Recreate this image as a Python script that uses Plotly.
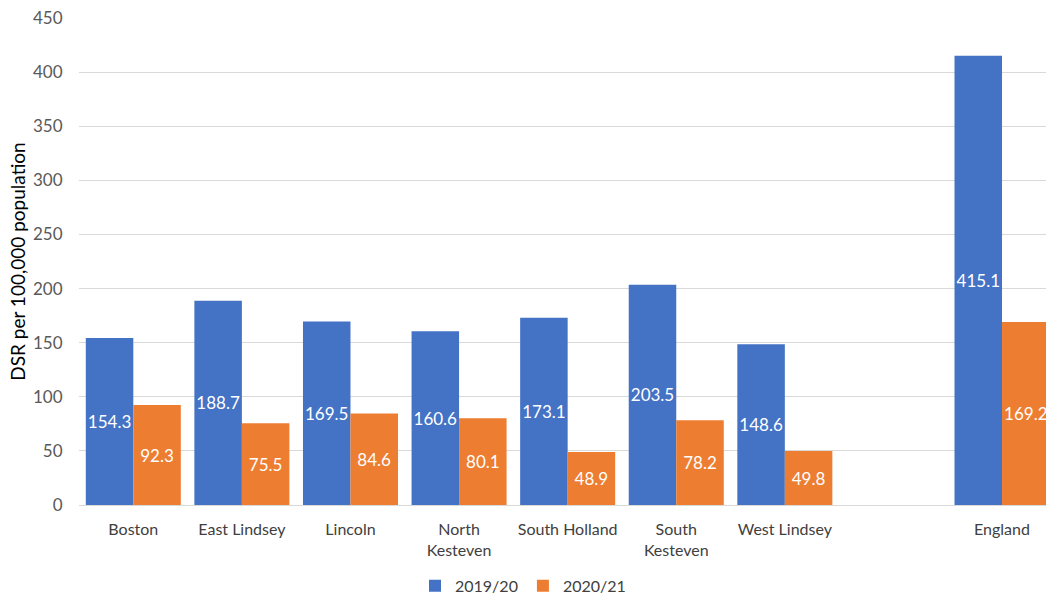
import plotly.graph_objects as go

categories = ["Boston", "East Lindsey", "Lincoln", "North<br>Kesteven", "South Holland",
              "South<br>Kesteven", "West Lindsey", " ", "England"]
values_2019 = [154.3, 188.7, 169.5, 160.6, 173.1, 203.5, 148.6, None, 415.1]
values_2020 = [92.3, 75.5, 84.6, 80.1, 48.9, 78.2, 49.8, None, 169.2]
series_names = ["2019/20", "2020/21"]
colors = ["#4472C4", "#ED7D31"]
y_ticks = [0, 50, 100, 150, 200, 250, 300, 350, 400, 450]

FONT = "Lato, Calibri, Carlito, sans-serif"

def labels(vals):
    return [("" if v is None else f"{v:.1f}") for v in vals]

fig = go.Figure()
for name, vals, col in zip(series_names, [values_2019, values_2020], colors):
    fig.add_trace(go.Bar(
        x=categories, y=vals, name=name, marker_color=col,
        text=labels(vals), textposition="inside", insidetextanchor="middle", textangle=0,
        textfont=dict(color="white", size=17, family=FONT),
        cliponaxis=True, marker_line_width=0,
    ))

fig.update_layout(
    width=1046, height=596,
    margin=dict(l=79, r=0, t=18, b=91, autoexpand=False),
    paper_bgcolor="white", plot_bgcolor="white",
    barmode="group", bargap=0.125, bargroupgap=0,
    font=dict(family=FONT, size=16, color="#404040"),
    uniformtext=dict(minsize=17, mode="show"),
    showlegend=True,
    legend=dict(orientation="h", x=0.5, xanchor="center", xref="container",
                y=0.017, yanchor="middle", yref="container",
                font=dict(size=16, color="#404040"), traceorder="normal"),
    xaxis=dict(
        type="category", range=[-0.5, 8.405], showgrid=False,
        showline=True, linecolor="#d9d9d9", linewidth=1,
        ticks="outside", ticklen=10, tickcolor="rgba(0,0,0,0)",
        tickfont=dict(size=16, color="#404040", family=FONT),
        automargin=False,
    ),
    yaxis=dict(
        range=[0, 450], tickvals=y_ticks, showgrid=True, gridcolor="#d9d9d9", gridwidth=1,
        zeroline=False, showline=False, ticks="outside", ticklen=12, tickcolor="rgba(0,0,0,0)",
        tickfont=dict(size=17, color="#595959", family=FONT),
        title=dict(text="DSR per 100,000 population", font=dict(size=19, color="#000000", family=FONT),
                   standoff=2),
        automargin=False,
    ),
)

fig.write_html("out.html")
